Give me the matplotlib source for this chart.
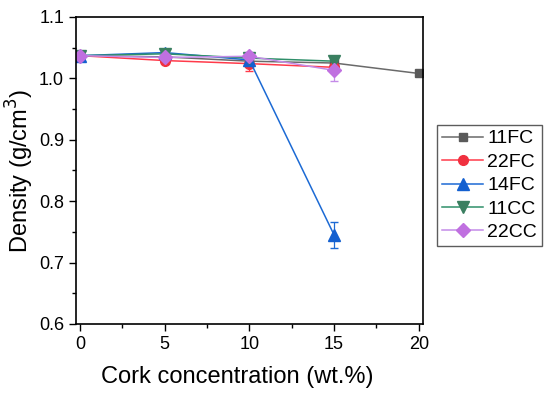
import matplotlib
matplotlib.use("Agg")
import matplotlib.pyplot as plt
from matplotlib.lines import Line2D
from matplotlib.ticker import MultipleLocator

plt.rcParams["font.family"] = ["Liberation Sans", "DejaVu Sans"]

cork = [0, 5, 10, 15, 20]

fc11 = [1.037, 1.035, 1.028, 1.025, 1.008]
fc11_err = [0.002, 0.002, 0.003, 0.003, 0.002]
fc22 = [1.037, 1.029, 1.024, 1.018]
fc22_err = [0.002, 0.003, 0.012, 0.004]
fc14 = [1.037, 1.042, 1.030, 0.745]
fc14_err = [0.002, 0.003, 0.003, 0.021]
cc11 = [1.037, 1.040, 1.033, 1.028]
cc11_err = [0.003, 0.002, 0.002, 0.003]
cc22 = [1.037, 1.034, 1.036, 1.013]
cc22_err = [0.002, 0.002, 0.003, 0.018]

series = [
    ("11FC", fc11, fc11_err, "#6a6a6a", "#5a5a5a", "s", 6),
    ("22FC", fc22, fc22_err, "#ff3a4a", "#f0303f", "o", 7),
    ("14FC", fc14, fc14_err, "#1c6ad4", "#1460d0", "^", 8),
    ("11CC", cc11, cc11_err, "#2f8f6a", "#3a7f60", "v", 8),
    ("22CC", cc22, cc22_err, "#c48be8", "#c070e0", "D", 7),
]

fig = plt.figure(figsize=(5.5, 3.95), dpi=100)
ax = fig.add_axes([0.138, 0.180, 0.631, 0.777])

handles = []
for (name, vals, errs, lc, mc, mk, ms) in series:
    ax.errorbar(
        cork[:len(vals)], vals, yerr=errs,
        color=lc, marker=mk, markersize=ms, markerfacecolor=mc,
        markeredgecolor=mc, lw=1.1, elinewidth=0.9, capsize=3,
    )
    handles.append(Line2D([], [], color=lc, marker=mk, markersize=ms,
                          markerfacecolor=mc, markeredgecolor=mc, lw=1.1,
                          label=name))

ax.set_xlim(-0.25, 20.25)
ax.set_ylim(0.6, 1.1)
ax.xaxis.set_major_locator(MultipleLocator(5))
ax.xaxis.set_minor_locator(MultipleLocator(2.5))
ax.yaxis.set_major_locator(MultipleLocator(0.1))
ax.yaxis.set_minor_locator(MultipleLocator(0.05))
ax.yaxis.set_major_formatter(plt.FormatStrFormatter("%.1f"))
ax.tick_params(which="both", direction="out", top=False, right=False,
               labelsize=13, width=1)
ax.tick_params(which="major", length=5)
ax.tick_params(which="minor", length=3)
for sp in ax.spines.values():
    sp.set_linewidth(1.2)

ax.set_xlabel("Cork concentration (wt.%)", fontsize=17)
ax.xaxis.set_label_coords(0.465, -0.138)
ax.set_ylabel("Density (g/cm$^3$)", fontsize=17, labelpad=2)

leg = ax.legend(handles=handles, loc="upper left",
                bbox_to_anchor=(1.04, 0.648),
                fontsize=14, frameon=True, fancybox=False,
                edgecolor="#333333", borderpad=0.25, labelspacing=0.3,
                handlelength=2.15, handletextpad=0.2, borderaxespad=0)
leg.get_frame().set_linewidth(1)

fig.savefig("out.png", dpi=100)
